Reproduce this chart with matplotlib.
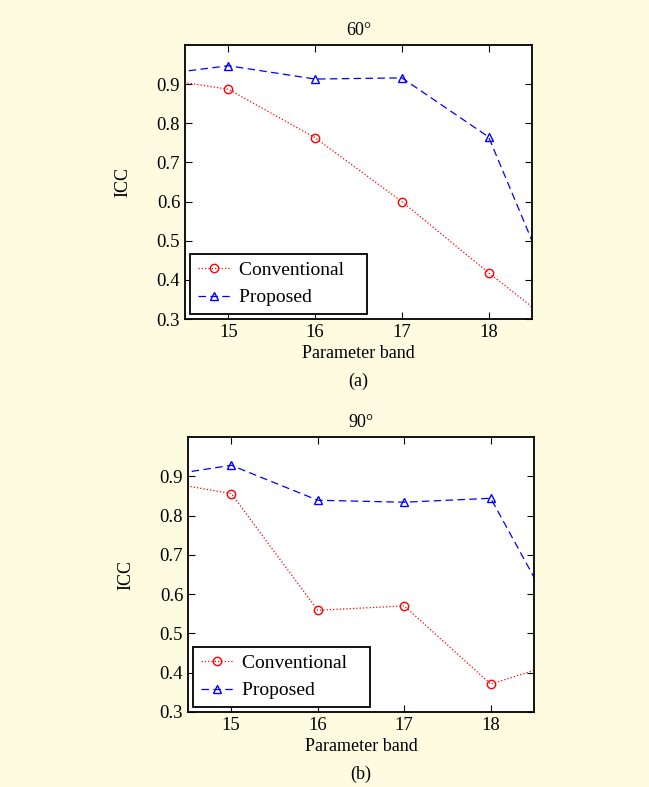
import matplotlib.pyplot as plt

# parameter bands (14 and 19 lie outside the visible range, lines run off the axes)
bands = [14, 15, 16, 17, 18, 19]

conv_60 = [0.921, 0.887, 0.763, 0.600, 0.418, 0.244]
prop_60 = [0.919, 0.947, 0.913, 0.916, 0.765, 0.235]

conv_90 = [0.894, 0.856, 0.559, 0.570, 0.371, 0.441]
prop_90 = [0.894, 0.928, 0.839, 0.834, 0.844, 0.442]

titles = ['60°', '90°']
captions = ['(a)', '(b)']
yticks = [0.3, 0.4, 0.5, 0.6, 0.7, 0.8, 0.9]

plt.rcParams['font.family'] = ['Liberation Serif', 'DejaVu Serif']
plt.rcParams['font.size'] = 13

bg = '#FEFCE0'
fig = plt.figure(figsize=(6.49, 7.87), dpi=100, facecolor=bg)

# axes boxes in pixels: left, top, right, bottom
boxes = [(185, 45, 532, 319), (188, 437, 534, 712)]
W, H = 649, 787

for (l, t, r, b), title, cap, conv, prop in zip(
        boxes, titles, captions, [conv_60, conv_90], [prop_60, prop_90]):
    ax = fig.add_axes([l / W, 1 - b / H, (r - l) / W, (b - t) / H])
    ax.plot(bands, conv, color='red', linestyle=':', linewidth=0.9,
            marker='o', markersize=6, markerfacecolor='none',
            markeredgecolor='red', label='Conventional')
    ax.plot(bands, prop, color='blue', linestyle=(0, (6, 3.5)), linewidth=0.9,
            marker='^', markersize=6, markerfacecolor='none',
            markeredgecolor='blue', label='Proposed')
    ax.set_xlim(14.5, 18.5)
    ax.set_ylim(0.3, 1.0)
    ax.set_xticks([15, 16, 17, 18])
    ax.set_yticks(yticks)
    ax.tick_params(direction='in', top=True, right=True, length=5, width=0.8, labelsize=13.5)
    for s in ax.spines.values():
        s.set_linewidth(1.3)
    ax.set_xlabel('Parameter band', fontsize=13, labelpad=3)
    ax.set_ylabel('ICC', fontsize=13, labelpad=18)
    ax.set_title(title, fontsize=13, pad=7)
    # MATLAB-style legend with extra room on the right
    handles, labels = ax.get_legend_handles_labels()
    leg = ax.legend(handles, [s + '   ' for s in labels], loc='lower left',
                    fontsize=14, fancybox=False, framealpha=1,
                    edgecolor='black', handlelength=1.65, borderaxespad=0.25,
                    handletextpad=0.5, borderpad=0.4)
    leg.get_frame().set_linewidth(1.3)
    fig.text((l + r) / 2 / W, 1 - (b + 62) / H, cap, ha='center', va='center', fontsize=13)

plt.savefig('out.png', dpi=100, facecolor=bg)
